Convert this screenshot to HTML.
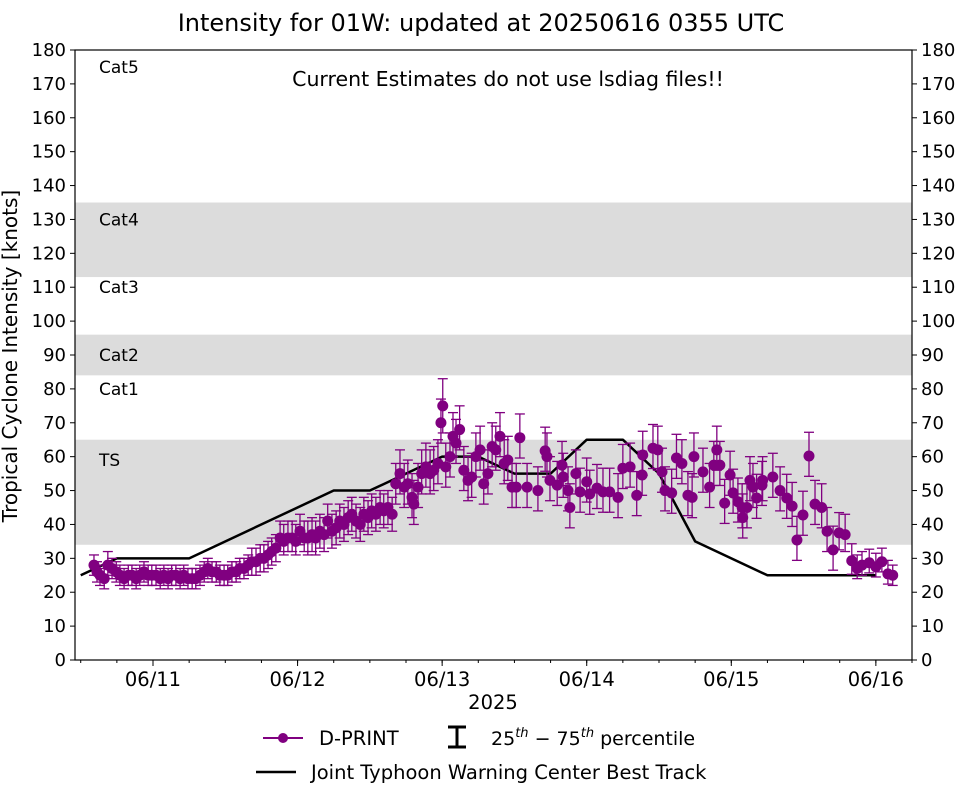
<!DOCTYPE html>
<html><head><meta charset="utf-8">
<style>
html,body{margin:0;padding:0;background:#fff;}
svg{display:block;font-family:"DejaVu Sans","Liberation Sans",sans-serif;}
</style></head>
<body>
<svg id="chart" width="962" height="785" viewBox="0 0 962 785">
<text x="481" y="31" font-size="24" text-anchor="middle">Intensity for 01W: updated at 20250616 0355 UTC</text>
<g id="bands"></g>
<g id="grid"></g>
<g id="track"></g>
<g id="dprint"></g>
<g id="axes"></g>
<text x="508" y="86" font-size="20.5" text-anchor="middle">Current Estimates do not use lsdiag files!!</text>
<text x="17" y="356" font-size="20" text-anchor="middle" transform="rotate(-90 17 356)">Tropical Cyclone Intensity [knots]</text>
<text x="493" y="709" font-size="19.5" text-anchor="middle">2025</text>
<g>
  <g>
    <line x1="263" y1="738" x2="303" y2="738" stroke="#800080" stroke-width="2"/>
    <circle cx="283" cy="738" r="5" fill="#800080"/>
    <text x="319" y="745" font-size="19.5">D-PRINT</text>
  </g>
  <g>
    <line x1="457" y1="727" x2="457" y2="747" stroke="#000" stroke-width="3"/>
    <line x1="448" y1="727" x2="466" y2="727" stroke="#000" stroke-width="3"/>
    <line x1="448" y1="747" x2="466" y2="747" stroke="#000" stroke-width="3"/>
    <text x="491" y="745" font-size="19">25<tspan font-size="13" dy="-8" font-style="italic">th</tspan><tspan dy="8"> − 75</tspan><tspan font-size="13" dy="-8" font-style="italic">th</tspan><tspan dy="8"> percentile</tspan></text>
  </g>
  <g>
    <line x1="256" y1="772" x2="296" y2="772" stroke="#000" stroke-width="2.5"/>
    <text x="311" y="779" font-size="19.5">Joint Typhoon Warning Center Best Track</text>
  </g>
</g>
</svg>
<script>
// hours since 06/10 00Z
const times = [14.2,14.7,15.2,15.9,16.5,17.2,17.9,18.5,19.2,19.9,
20.5,21.2,21.8,22.5,23.2,23.8,24.5,25.2,25.8,26.5,
27.1,27.8,28.5,29.1,29.8,30.5,31.1,31.8,32.5,33.1,
33.8,34.5,35.1,35.8,36.4,37.1,37.8,38.4,39.1,39.8,
40.4,41.1,41.8,42.4,43.1,43.7,44.4,45.1,45.7,46.4,
47.1,47.7,48.4,49.1,49.7,50.4,51.0,51.7,52.4,53.0,
53.7,54.4,55.0,55.7,56.4,57.0,57.7,58.4,59.0,59.7,
60.3,61.0,61.7,62.3,63.0,63.7,64.3,65.0,65.7,66.3,
67.0,67.3,68.0,68.6,69.3,70.0,70.6,71.3,71.8,72.1,
72.6,73.3,73.8,74.3,74.9,75.6,76.3,76.9,77.6,78.3,
78.9,79.6,80.3,80.9,81.6,82.3,82.9,83.6,84.3,84.9,
86.1,87.9,89.1,89.4,89.9,91.1,91.9,92.1,92.9,93.2,
94.2,94.9,96.0,96.5,97.7,98.7,99.8,101.2,102.0,103.2,
104.3,105.2,105.3,107.0,107.8,108.5,109.0,110.1,110.9,111.8,
112.8,113.5,113.8,115.3,116.4,117.1,117.6,118.1,118.9,119.8,
120.3,121.1,121.8,121.9,122.6,123.1,123.6,124.2,125.1,125.2,
126.9,128.1,129.2,130.1,130.9,131.9,132.9,133.9,135.0,135.9,
136.9,137.9,138.9,140.0,140.9,141.7,142.9,144.0,145.0,146.0,
146.8];
const values = [28,26,25,24,28,27,26,25,24,25,
25,24,25,26,25,25,25,24,25,24,
25,25,24,25,24,24,24,25,26,27,
26,26,25,25,25,26,26,27,27,28,
29,29,30,30,31,32,33,36,35,36,
36,35,38,36,36,37,36,38,37,41,
38,39,41,40,42,43,41,40,43,42,
44,43,45,44,45,43,52,55,51,52,
48,46,51,55,57,55,56,58,70,75,
57,60,66,64,68,56,53,54,60,62,
52,55,63,62,66,58,59,51,51,65.6,
51,50,61.7,60,53,51.6,57.5,54,50,45,
55,49.6,52.6,49,50.7,49.6,49.6,48,56.6,57,
48.6,54.6,60.5,62.5,62,55.5,50,49.3,59.6,58,
48.6,48,60,55.5,51,57.5,62,57.5,46.3,54.6,
49.3,46.7,45,42,45,53,51,47.8,51.6,53,
54,50,47.8,45.4,35.4,42.8,60.2,46,45,38,
32.5,37.5,37,29.3,27,28,28.7,27.5,29,25.4,
25];
const errLow = [3,3,3,3,3,3,3,3,3,3,
3,3,3,3,3,3,3,3,3,3,
3,3,3,3,3,3,3,3,3,3,
3,3,3,3,3,3,3,3,3,3,
4,4,4,4,4,4,4,4,4,4,
4,4,4,4,5,5,5,5,5,5,
5,5,5,5,5,5,5,5,5,5,
5,5,5,5,5,5,6,6,6,6,
6,6,6,6,6,6,6,6,6,8,
6,6,6,6,6,6,6,6,6,6,
6,6,6,6,6,6,6,6,6,6,
6,6,6,6,6,6,6,6,6,6,
6,6,6,6,6,6,6,6,6,6,
6,6,6,6,6,6,6,6,6,6,
6,6,6,6,6,6,6,6,6,6,
6,6,6,6,6,6,6,6,6,6,
6,6,6,6,6,6,6,6,6,6,
6,5,5,4,3,3,3,3,3,3,
3];
const errHigh = [3,3,3,3,4,3,3,3,3,3,
3,3,3,3,3,3,3,3,3,3,
3,3,3,3,3,3,3,3,3,3,
3,3,3,3,3,3,3,3,3,3,
4,4,4,4,4,4,4,5,5,5,
5,5,5,5,5,5,5,5,5,5,
5,5,5,5,5,5,5,5,5,5,
5,5,5,5,5,5,6,7,7,7,
7,7,7,7,7,7,7,7,7,8,
7,7,7,7,7,7,7,7,7,7,
7,7,7,7,7,7,7,7,7,7,
7,7,7,7,7,7,7,7,7,7,
7,7,7,7,7,7,7,7,7,7,
7,7,7,7,7,7,7,7,7,7,
7,7,7,7,7,7,7,7,7,7,
7,7,7,7,7,7,7,7,7,7,
7,7,7,7,7,7,7,7,7,7,
7,6,6,5,4,4,4,4,4,4,
3];
const trackTimes = [12,18,30,54,60,72,78,84,90,96,102,108,114,126,144];
const trackValues = [25,30,30,50,50,60,60,55,55,65,65,55,35,25,25];
const yTicks = [0,10,20,30,40,50,60,70,80,90,100,110,120,130,140,150,160,170,180];
const xTickHours = [24,48,72,96,120,144];
const xTickLabels = ["06/11","06/12","06/13","06/14","06/15","06/16"];
const catNames = ["TS","Cat1","Cat2","Cat3","Cat4","Cat5"];
const catLabelVals = [59,80,90,110,130,175];
const shadedLo = [34,84,113];
const shadedHi = [65,96,135];

const L=75,R=912,T=50,B=660,X0=11.05,X1=150.0;
const NS='http://www.w3.org/2000/svg';
function xs(h){return L+(h-X0)/(X1-X0)*(R-L);}
function ys(v){return B-v/180*(B-T);}
function mk(tag,attrs,parent){const e=document.createElementNS(NS,tag);for(const k in attrs)e.setAttribute(k,attrs[k]);parent.appendChild(e);return e;}

const bands=document.getElementById('bands');
for(let i=0;i<shadedLo.length;i++){
  const r=mk('rect',{x:L,y:ys(shadedHi[i]),width:R-L,height:ys(shadedLo[i])-ys(shadedHi[i]),fill:'#dcdcdc'},bands);
  
  
}
for(let i=0;i<catNames.length;i++){
  const t=mk('text',{x:99,y:ys(catLabelVals[i])+6,'font-size':17},bands);
  t.textContent=catNames[i];
  
  
}

const tr=document.getElementById('track');
const pts=trackTimes.map((h,i)=>xs(h)+','+ys(trackValues[i])).join(' ');
const pl=mk('polyline',{points:pts,fill:'none',stroke:'#000','stroke-width':2.5,'stroke-linejoin':'round'},tr);



const dp=document.getElementById('dprint');
for(let i=0;i<times.length;i++){
  const x=xs(times[i]),y=ys(values[i]),y1=ys(values[i]-errLow[i]),y2=ys(values[i]+errHigh[i]);
  const g=mk('g',{},dp);
  
  
  mk('line',{x1:x,y1:y1,x2:x,y2:y2,stroke:'#800080','stroke-width':1.3},g);
  mk('line',{x1:x-5,y1:y1,x2:x+5,y2:y1,stroke:'#800080','stroke-width':1.3},g);
  mk('line',{x1:x-5,y1:y2,x2:x+5,y2:y2,stroke:'#800080','stroke-width':1.3},g);
  mk('circle',{cx:x,cy:y,r:5.5,fill:'#800080'},g);
}

const ax=document.getElementById('axes');
const fr=mk('rect',{x:L,y:T,width:R-L,height:B-T,fill:'none',stroke:'#000','stroke-width':1.2},ax);


for(const v of yTicks){
  const y=ys(v);
  mk('line',{x1:L-5,y1:y,x2:L,y2:y,stroke:'#000'},ax);
  mk('line',{x1:R,y1:y,x2:R+5,y2:y,stroke:'#000'},ax);
  const t1=mk('text',{x:L-9,y:y+6,'font-size':18,'text-anchor':'end'},ax);t1.textContent=v;
  
  
  const t2=mk('text',{x:R+9,y:y+6,'font-size':18},ax);t2.textContent=v;
  
  
}
for(let h=12;h<=X1;h+=6){mk('line',{x1:xs(h),y1:B,x2:xs(h),y2:B+3,stroke:'#000'},ax);}
for(let i=0;i<xTickHours.length;i++){
  const x=xs(xTickHours[i]);
  mk('line',{x1:x,y1:B,x2:x,y2:B+6,stroke:'#000'},ax);
  const t=mk('text',{x:x,y:B+26,'font-size':19.5,'text-anchor':'middle'},ax);t.textContent=xTickLabels[i];
  
  
}
</script>
</body></html>
